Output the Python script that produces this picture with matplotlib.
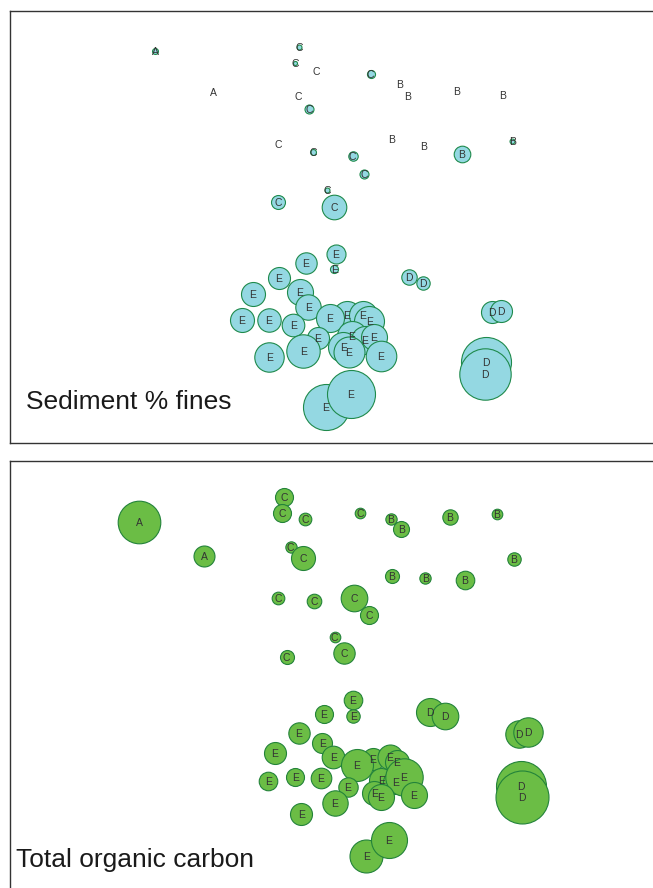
import matplotlib
matplotlib.use("Agg")
import matplotlib.pyplot as plt
import matplotlib.transforms as mtransforms
import numpy as np

plt.rcParams['font.family'] = ['Liberation Sans', 'DejaVu Sans']

W, H, DPI = 653, 888, 100

# ---- Sediment % fines: ordination positions (plot units) and values ----
fines_group = (['A'] * 2 + ['B'] * 8 + ['C'] * 13 + ['D'] * 6 + ['E'] * 25)
fines_x = [155.0, 213.3,
           400.0, 408.0, 456.7, 502.3, 391.7, 423.3, 462.0, 512.3,
           299.3, 295.0, 316.7, 370.7, 298.7, 309.0, 278.7, 313.3, 352.7, 364.3, 327.3, 278.3, 334.3,
           409.0, 422.7, 491.7, 501.0, 485.7, 485.0,
           335.7, 334.3, 305.7, 279.0, 252.7, 300.0, 308.3, 241.7, 268.7, 293.3,
           346.7, 362.7, 369.3, 330.0, 351.7, 365.0, 374.0, 317.7, 303.3, 269.3,
           343.3, 348.7, 381.0, 325.7, 350.7]
fines_y = [50.7, 91.7,
           84.0, 95.7, 91.0, 94.7, 139.0, 146.0, 154.3, 141.0,
           46.7, 63.3, 70.7, 74.0, 96.0, 109.3, 144.0, 152.0, 155.7, 173.7, 190.3, 202.3, 207.3,
           277.3, 283.3, 312.3, 310.7, 362.0, 374.0,
           254.3, 269.3, 263.3, 278.0, 294.3, 292.0, 307.0, 320.0, 320.0, 325.0,
           315.0, 314.7, 320.7, 318.0, 336.0, 340.0, 336.7, 338.3, 351.0, 356.7,
           346.7, 352.0, 356.0, 406.7, 394.0]
fines_pct = [1.3, 0.0,
             0.0, 0.0, 0.0, 0.0, 0.0, 0.0, 10.2, 0.9,
             0.9, 0.6, 0.0, 2.4, 0.0, 3.0, 0.0, 1.3, 3.3, 3.0, 0.9, 7.2, 22.4,
             8.8, 6.6, 17.9, 17.9, 92.5, 97.7,
             13.4, 2.4, 16.9, 17.9, 21.3, 25.0, 23.9, 21.3, 20.3, 18.9,
             29.0, 29.0, 33.3, 29.0, 33.3, 29.0, 25.0, 17.9, 41.3, 32.0,
             33.3, 35.5, 34.6, 78.3, 85.2]

# ---- Total organic carbon ----
toc_group = fines_group
toc_x = [139.0, 204.3,
         391.0, 401.3, 450.0, 496.7, 514.0, 391.7, 425.3, 465.0,
         284.0, 282.3, 305.3, 360.0, 290.7, 303.0, 278.3, 314.3, 354.3, 369.0, 334.7, 344.3, 286.7,
         429.7, 445.0, 519.0, 528.3, 520.7, 522.0,
         352.7, 353.3, 323.7, 299.0, 275.0, 322.3, 333.3, 268.3, 295.3, 321.0,
         372.7, 389.7, 396.7, 381.3, 356.7, 395.3, 404.0, 414.0, 347.7, 374.3,
         380.7, 335.0, 301.3, 366.3, 389.0]
toc_y = [522.3, 555.7,
         519.3, 529.3, 516.7, 514.3, 559.0, 575.7, 578.3, 580.0,
         496.7, 513.3, 518.7, 512.7, 546.7, 558.3, 597.7, 600.7, 598.0, 614.7, 637.3, 653.3, 657.3,
         712.0, 716.0, 734.3, 731.7, 786.0, 797.0,
         700.0, 715.7, 714.3, 733.3, 753.3, 743.3, 757.3, 781.0, 777.3, 778.3,
         759.3, 756.7, 761.7, 780.0, 765.3, 781.7, 777.3, 795.0, 787.3, 793.3,
         796.7, 802.7, 814.0, 856.0, 840.0]
toc_pct = [4.54, 1.10,
           0.32, 0.64, 0.59, 0.28, 0.45, 0.49, 0.32, 0.86,
           0.81, 0.81, 0.40, 0.28, 0.32, 1.44, 0.40, 0.53, 1.77, 0.81, 0.28, 1.14, 0.49,
           1.96, 1.77, 1.88, 2.16, 6.25, 7.02,
           0.86, 0.45, 0.81, 1.14, 1.21, 1.00, 1.28, 0.86, 0.81, 1.06,
           1.21, 1.56, 1.44, 1.44, 2.56, 1.44, 3.50, 1.69, 0.94, 1.44,
           1.69, 1.61, 1.21, 2.72, 3.24]

FINES_FILL, FINES_EDGE = '#94d8e2', '#1f8a4c'
TOC_FILL, TOC_EDGE = '#6bbd45', '#23833a'
LABEL_COLOR = '#333333'


def px_to_pt(px):
    return px * 72.0 / DPI


def bubble_panel(fig, rect_px, x, y, vals, groups, radius_per_sqrt, fill, edge, title, title_xy):
    left, top, right, bottom = rect_px
    ax = fig.add_axes([left / W, 1 - bottom / H, (right - left) / W, (bottom - top) / H])
    ax.set_xlim(left, right)
    ax.set_ylim(bottom, top)
    ax.set_xticks([])
    ax.set_yticks([])
    for side in ax.spines.values():
        side.set_color('#333333')
        side.set_linewidth(1.0)
    vals = np.asarray(vals, float)
    radius_px = radius_per_sqrt * np.sqrt(vals)
    sizes = (2 * px_to_pt(radius_px)) ** 2
    for xi, yi, si, vi in zip(x, y, sizes, vals):
        if vi > 0:
            ax.scatter([xi], [yi], s=si, c=fill, edgecolors=edge,
                       linewidths=0.8, zorder=2)
    # nudge labels so the capital letters sit on the bubble centre
    label_tf = mtransforms.offset_copy(ax.transData, fig=fig, x=0, y=-0.6, units='points')
    for xi, yi, g in zip(x, y, groups):
        ax.text(xi, yi, g, ha='center', va='center', fontsize=7.5,
                color=LABEL_COLOR, zorder=5, transform=label_tf)
    fig.text(title_xy[0] / W, 1 - title_xy[1] / H, title, fontsize=19,
             color='#1a1a1a', ha='left', va='baseline')
    return ax


fig = plt.figure(figsize=(W / DPI, H / DPI), dpi=DPI)

bubble_panel(fig, (9.5, 11.5, 670, 443), fines_x, fines_y, fines_pct, fines_group,
             2.6, FINES_FILL, FINES_EDGE, 'Sediment % fines', (26, 409))
bubble_panel(fig, (9.5, 460.5, 670, 900), toc_x, toc_y, toc_pct, toc_group,
             10.0, TOC_FILL, TOC_EDGE, 'Total organic carbon', (16, 867))

fig.savefig('out.png', dpi=DPI)
